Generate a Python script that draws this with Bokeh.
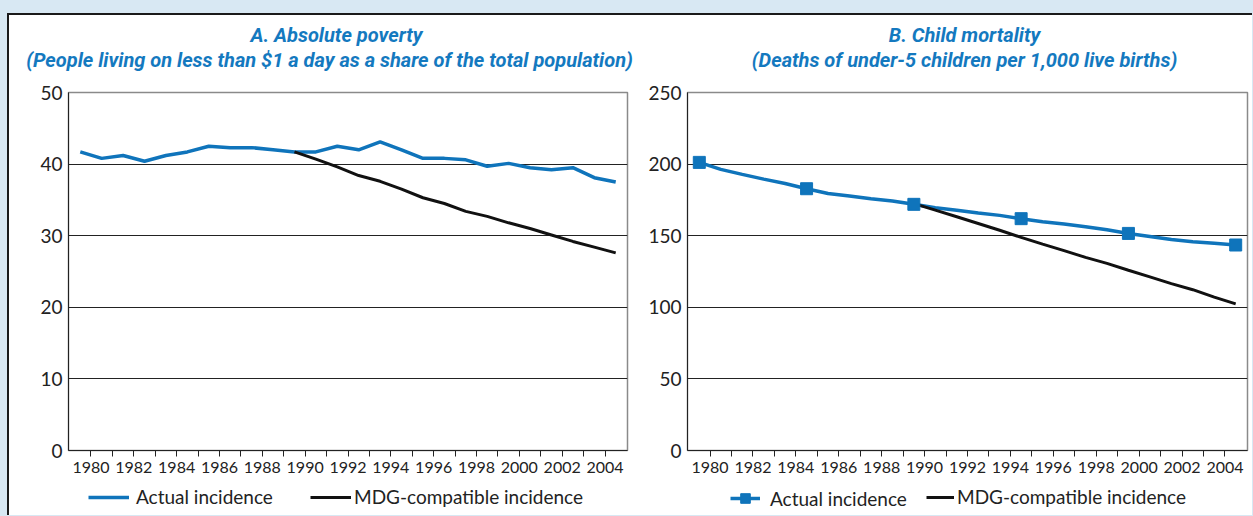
from bokeh.plotting import figure
from bokeh.models import (Range1d, FixedTicker, Label, Legend, LegendItem)
from bokeh.layouts import row, column
from bokeh.embed import file_html
from bokeh.resources import INLINE

# ---------------- data ----------------
years = list(range(1980, 2006))
tick_years = list(range(1980, 2005))

poverty_actual = [41.7, 40.8, 41.2, 40.4, 41.2, 41.7, 42.5, 42.3, 42.3, 42.0,
                  41.7, 41.7, 42.5, 42.0, 43.1, 42.0, 40.8, 40.8, 40.6, 39.7,
                  40.1, 39.5, 39.2, 39.5, 38.1, 37.5]
mdg_years = list(range(1990, 2006))
poverty_mdg = [41.7, 40.7, 39.6, 38.4, 37.6, 36.5, 35.3, 34.5, 33.4, 32.7,
               31.8, 31.0, 30.1, 29.2, 28.4, 27.6]

child_actual = [201.2, 196.3, 192.8, 189.5, 186.5, 182.8, 179.5, 177.7, 175.8, 174.2,
                171.9, 169.5, 167.7, 165.8, 164.2, 161.9, 159.8, 158.1, 156.3, 154.2,
                151.6, 149.5, 147.4, 145.8, 144.7, 143.5]
child_mdg = [172.4, 167.9, 163.2, 158.5, 153.8, 148.8, 144.1, 139.6, 134.9, 130.7,
             125.9, 121.2, 116.5, 112.3, 107.1, 102.4]
marker_years = [y for y in years if y % 5 == 0]
child_markers = [v for y, v in zip(years, child_actual) if y % 5 == 0]

titles_a = ["A. Absolute poverty",
            "(People living on less than $1 a day as a share of the total population)"]
titles_b = ["B. Child mortality",
            "(Deaths of under-5 children per 1,000 live births)"]
legend_labels = ["Actual incidence", "MDG-compatible incidence"]

BLUE = "#0f74bb"
TITLE_BLUE = "#1479bf"
BLACK = "#111111"
TEXT = "#222222"
TICK_FONT = "Lato"
TITLE_FONT = "Roboto"

W1, W2 = 636, 607          # widths of the left / right columns
H_TITLE, H_MAIN, H_LEG = 65, 402, 33


def blank_fig(width, height, xr=(0, 1), yr=(0, 1)):
    f = figure(width=width, height=height, output_backend="svg", toolbar_location=None,
               title=None, x_range=Range1d(*xr), y_range=Range1d(*yr),
               x_axis_location=None, y_axis_location=None,
               min_border_left=0, min_border_right=0, min_border_top=0, min_border_bottom=0)
    f.grid.visible = False
    f.outline_line_color = None
    f.background_fill_color = "white"
    f.border_fill_color = "white"
    return f


def title_fig(width, lines, centers):
    f = blank_fig(width, H_TITLE)
    for t, cx, y in zip(lines, centers, [46, 21]):
        f.add_layout(Label(x=cx, y=y, x_units="screen", y_units="screen", text=t,
                           text_align="center", text_baseline="alphabetic",
                           text_font=TITLE_FONT, text_font_style="bold italic",
                           text_font_size="20px", text_color=TITLE_BLUE))
    return f


def legend_fig(width, specs, actual, mdg, with_markers):
    # the series are re-drawn here only as legend proxies: the ranges keep them out of view
    f = blank_fig(width, H_LEG, xr=(0, 1), yr=(-1, 0))
    r_a = f.line(years, actual, line_color=BLUE, line_width=3.5)
    rs_a = [r_a]
    if with_markers:
        rs_a.append(f.scatter(marker_years, child_markers, marker="square", size=12,
                              fill_color=BLUE, line_color=BLUE))
    r_m = f.line(mdg_years, mdg, line_color=BLACK, line_width=3)
    for (vx, vy, gw, gh, so), lab, rs in zip(specs, legend_labels, [rs_a, [r_m]]):
        f.add_layout(Legend(items=[LegendItem(label=lab, renderers=rs)],
                            location=(vx, vy), orientation="horizontal",
                            glyph_width=gw, glyph_height=gh, label_height=20,
                            label_standoff=so, padding=0, margin=0,
                            border_line_color=None, background_fill_alpha=0,
                            label_text_font=TICK_FONT, label_text_font_size="19px",
                            label_text_color=TEXT))
    return f


def main_fig(width, border_left, border_right, ymax, ystep, with_markers, actual, mdg):
    p = figure(width=width, height=H_MAIN, output_backend="svg", toolbar_location=None,
               title=None, x_range=Range1d(1979.45, 2005.55), y_range=Range1d(0, ymax),
               min_border_left=border_left, min_border_right=border_right,
               min_border_top=12, min_border_bottom=32)
    p.background_fill_color = "white"
    p.border_fill_color = "white"
    p.outline_line_color = "#8a8a8a"
    p.outline_line_width = 1.5
    p.xgrid.visible = False
    p.ygrid.grid_line_color = "#222222"
    p.ygrid.grid_line_width = 1
    p.ygrid.ticker = FixedTicker(ticks=list(range(0, ymax + 1, ystep)))

    ticks = [y + 0.5 for y in tick_years]
    p.xaxis.ticker = FixedTicker(ticks=ticks)
    p.xaxis.major_label_overrides = {y + 0.5: (str(y) if y % 2 == 0 else "") for y in tick_years}
    p.xaxis.minor_tick_line_color = None
    p.xaxis.major_tick_in = 0
    p.xaxis.major_tick_out = 6
    p.xaxis.major_tick_line_color = "#222222"
    p.xaxis.axis_line_color = "#222222"
    p.xaxis.major_label_text_font = TICK_FONT
    p.xaxis.major_label_text_font_size = "16px"
    p.xaxis.major_label_text_color = TEXT
    p.xaxis.major_label_standoff = 5

    p.yaxis.ticker = FixedTicker(ticks=list(range(0, ymax + 1, ystep)))
    p.yaxis.minor_tick_line_color = None
    p.yaxis.major_tick_in = 0
    p.yaxis.major_tick_out = 0
    p.yaxis.axis_line_color = "#222222"
    p.yaxis.major_label_text_font = TICK_FONT
    p.yaxis.major_label_text_font_size = "19px"
    p.yaxis.major_label_text_color = TEXT
    p.yaxis.major_label_standoff = 6

    p.line(years, actual, line_color=BLUE, line_width=3.5)
    p.line(mdg_years, mdg, line_color=BLACK, line_width=3)
    if with_markers:
        p.scatter(marker_years, child_markers, marker="square", size=12,
                  fill_color=BLUE, line_color=BLUE)
    return p


t1 = title_fig(W1, titles_a, [327, 320])
t2 = title_fig(W2, titles_b, [319, 319])
p1 = main_fig(W1, 59, 18, 50, 10, False, poverty_actual, poverty_mdg)
p2 = main_fig(W2, 42, 5, 250, 50, True, child_actual, child_mdg)
l1 = legend_fig(W1, [(79, 7, 41, 20, 7), (301, 7, 41, 20, 3)],
                poverty_actual, poverty_mdg, False)
l2 = legend_fig(W2, [(85, 5, 30, 24, 10), (281, 7, 28, 20, 3)],
                child_actual, child_mdg, True)

layout = column(row(t1, t2), row(p1, p2), row(l1, l2),
                styles={"margin-top": "13px", "margin-left": "7px",
                        "border-top": "2px solid #1a1a1a",
                        "border-left": "2px solid #1a1a1a", "background-color": "white"})

html = file_html(layout, INLINE)
i = html.rfind("<body>")
if i >= 0:
    html = html[:i] + '<body style="background-color:#d8e8f3">' + html[i + 6:]
open("out.html", "w").write(html)
